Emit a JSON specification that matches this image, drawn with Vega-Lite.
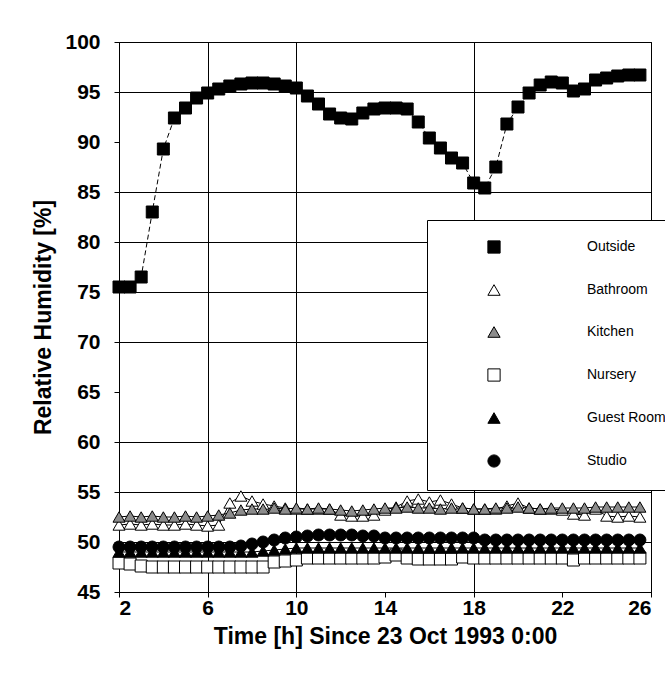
{
  "$schema": "https://vega.github.io/schema/vega-lite/v6.json",
  "width": 532,
  "height": 550,
  "autosize": "none",
  "padding": {"left": 119, "top": 42, "right": 14, "bottom": 95},
  "background": "white",
  "config": {
    "view": {"stroke": "black", "strokeWidth": 1},
    "font": "Liberation Sans",
    "axis": {
      "domainColor": "black", "gridColor": "black", "gridWidth": 1, "tickColor": "black",
      "labelColor": "black", "titleColor": "black", "labelFont": "Liberation Sans",
      "titleFont": "Liberation Sans", "labelFontSize": 21, "labelFontWeight": "bold",
      "titleFontSize": 23, "titleFontWeight": "bold", "tickSize": 5
    },
    "axisX": {"labelPadding": 0, "titlePadding": 7},
    "axisY": {"labelPadding": 14, "titlePadding": 9}
  },
  "data": {"values": [
    {"s":"Outside","t":2,"v":75.5},{"s":"Outside","t":2.5,"v":75.5},{"s":"Outside","t":3,"v":76.5},{"s":"Outside","t":3.5,"v":83.0},{"s":"Outside","t":4,"v":89.3},{"s":"Outside","t":4.5,"v":92.4},{"s":"Outside","t":5,"v":93.4},{"s":"Outside","t":5.5,"v":94.4},{"s":"Outside","t":6,"v":94.9},{"s":"Outside","t":6.5,"v":95.3},{"s":"Outside","t":7,"v":95.6},{"s":"Outside","t":7.5,"v":95.8},{"s":"Outside","t":8,"v":95.9},{"s":"Outside","t":8.5,"v":95.9},{"s":"Outside","t":9,"v":95.8},{"s":"Outside","t":9.5,"v":95.6},{"s":"Outside","t":10,"v":95.4},{"s":"Outside","t":10.5,"v":94.6},{"s":"Outside","t":11,"v":93.8},{"s":"Outside","t":11.5,"v":92.8},{"s":"Outside","t":12,"v":92.4},{"s":"Outside","t":12.5,"v":92.3},{"s":"Outside","t":13,"v":92.9},{"s":"Outside","t":13.5,"v":93.3},{"s":"Outside","t":14,"v":93.4},{"s":"Outside","t":14.5,"v":93.4},{"s":"Outside","t":15,"v":93.3},{"s":"Outside","t":15.5,"v":92.0},{"s":"Outside","t":16,"v":90.4},{"s":"Outside","t":16.5,"v":89.4},{"s":"Outside","t":17,"v":88.4},{"s":"Outside","t":17.5,"v":87.9},{"s":"Outside","t":18,"v":85.9},{"s":"Outside","t":18.5,"v":85.4},{"s":"Outside","t":19,"v":87.5},{"s":"Outside","t":19.5,"v":91.8},{"s":"Outside","t":20,"v":93.5},{"s":"Outside","t":20.5,"v":94.9},{"s":"Outside","t":21,"v":95.7},{"s":"Outside","t":21.5,"v":96.0},{"s":"Outside","t":22,"v":95.9},{"s":"Outside","t":22.5,"v":95.1},{"s":"Outside","t":23,"v":95.3},{"s":"Outside","t":23.5,"v":96.2},{"s":"Outside","t":24,"v":96.4},{"s":"Outside","t":24.5,"v":96.6},{"s":"Outside","t":25,"v":96.7},{"s":"Outside","t":25.5,"v":96.7},
    {"s":"Bathroom","t":2,"v":51.7},{"s":"Bathroom","t":2.5,"v":51.8},{"s":"Bathroom","t":3,"v":51.7},{"s":"Bathroom","t":3.5,"v":51.8},{"s":"Bathroom","t":4,"v":51.7},{"s":"Bathroom","t":4.5,"v":51.7},{"s":"Bathroom","t":5,"v":51.8},{"s":"Bathroom","t":5.5,"v":51.7},{"s":"Bathroom","t":6,"v":51.6},{"s":"Bathroom","t":6.5,"v":51.7},{"s":"Bathroom","t":7,"v":53.9},{"s":"Bathroom","t":7.5,"v":54.6},{"s":"Bathroom","t":8,"v":54.1},{"s":"Bathroom","t":8.5,"v":53.8},{"s":"Bathroom","t":9,"v":53.6},{"s":"Bathroom","t":9.5,"v":53.4},{"s":"Bathroom","t":10,"v":53.3},{"s":"Bathroom","t":10.5,"v":53.3},{"s":"Bathroom","t":11,"v":53.3},{"s":"Bathroom","t":11.5,"v":53.3},{"s":"Bathroom","t":12,"v":52.7},{"s":"Bathroom","t":12.5,"v":52.6},{"s":"Bathroom","t":13,"v":52.6},{"s":"Bathroom","t":13.5,"v":52.7},{"s":"Bathroom","t":14,"v":53.2},{"s":"Bathroom","t":14.5,"v":53.5},{"s":"Bathroom","t":15,"v":54.1},{"s":"Bathroom","t":15.5,"v":54.3},{"s":"Bathroom","t":16,"v":54.0},{"s":"Bathroom","t":16.5,"v":54.2},{"s":"Bathroom","t":17,"v":53.8},{"s":"Bathroom","t":17.5,"v":53.4},{"s":"Bathroom","t":18,"v":53.3},{"s":"Bathroom","t":18.5,"v":53.3},{"s":"Bathroom","t":19,"v":53.3},{"s":"Bathroom","t":19.5,"v":53.6},{"s":"Bathroom","t":20,"v":53.9},{"s":"Bathroom","t":20.5,"v":53.4},{"s":"Bathroom","t":21,"v":53.3},{"s":"Bathroom","t":21.5,"v":53.3},{"s":"Bathroom","t":22,"v":53.2},{"s":"Bathroom","t":22.5,"v":52.8},{"s":"Bathroom","t":23,"v":52.7},{"s":"Bathroom","t":23.5,"v":53.3},{"s":"Bathroom","t":24,"v":52.6},{"s":"Bathroom","t":24.5,"v":52.5},{"s":"Bathroom","t":25,"v":52.6},{"s":"Bathroom","t":25.5,"v":52.5},
    {"s":"Kitchen","t":2,"v":52.5},{"s":"Kitchen","t":2.5,"v":52.6},{"s":"Kitchen","t":3,"v":52.5},{"s":"Kitchen","t":3.5,"v":52.6},{"s":"Kitchen","t":4,"v":52.5},{"s":"Kitchen","t":4.5,"v":52.5},{"s":"Kitchen","t":5,"v":52.6},{"s":"Kitchen","t":5.5,"v":52.5},{"s":"Kitchen","t":6,"v":52.6},{"s":"Kitchen","t":6.5,"v":52.7},{"s":"Kitchen","t":7,"v":52.9},{"s":"Kitchen","t":7.5,"v":53.2},{"s":"Kitchen","t":8,"v":53.3},{"s":"Kitchen","t":8.5,"v":53.3},{"s":"Kitchen","t":9,"v":53.4},{"s":"Kitchen","t":9.5,"v":53.3},{"s":"Kitchen","t":10,"v":53.4},{"s":"Kitchen","t":10.5,"v":53.3},{"s":"Kitchen","t":11,"v":53.4},{"s":"Kitchen","t":11.5,"v":53.3},{"s":"Kitchen","t":12,"v":53.2},{"s":"Kitchen","t":12.5,"v":53.1},{"s":"Kitchen","t":13,"v":53.2},{"s":"Kitchen","t":13.5,"v":53.3},{"s":"Kitchen","t":14,"v":53.4},{"s":"Kitchen","t":14.5,"v":53.4},{"s":"Kitchen","t":15,"v":53.5},{"s":"Kitchen","t":15.5,"v":53.4},{"s":"Kitchen","t":16,"v":53.4},{"s":"Kitchen","t":16.5,"v":53.3},{"s":"Kitchen","t":17,"v":53.4},{"s":"Kitchen","t":17.5,"v":53.4},{"s":"Kitchen","t":18,"v":53.3},{"s":"Kitchen","t":18.5,"v":53.3},{"s":"Kitchen","t":19,"v":53.4},{"s":"Kitchen","t":19.5,"v":53.4},{"s":"Kitchen","t":20,"v":53.5},{"s":"Kitchen","t":20.5,"v":53.4},{"s":"Kitchen","t":21,"v":53.3},{"s":"Kitchen","t":21.5,"v":53.4},{"s":"Kitchen","t":22,"v":53.4},{"s":"Kitchen","t":22.5,"v":53.4},{"s":"Kitchen","t":23,"v":53.4},{"s":"Kitchen","t":23.5,"v":53.5},{"s":"Kitchen","t":24,"v":53.5},{"s":"Kitchen","t":24.5,"v":53.5},{"s":"Kitchen","t":25,"v":53.5},{"s":"Kitchen","t":25.5,"v":53.5},
    {"s":"Nursery","t":2,"v":47.9},{"s":"Nursery","t":2.5,"v":47.8},{"s":"Nursery","t":3,"v":47.6},{"s":"Nursery","t":3.5,"v":47.5},{"s":"Nursery","t":4,"v":47.5},{"s":"Nursery","t":4.5,"v":47.5},{"s":"Nursery","t":5,"v":47.5},{"s":"Nursery","t":5.5,"v":47.5},{"s":"Nursery","t":6,"v":47.5},{"s":"Nursery","t":6.5,"v":47.5},{"s":"Nursery","t":7,"v":47.5},{"s":"Nursery","t":7.5,"v":47.5},{"s":"Nursery","t":8,"v":47.5},{"s":"Nursery","t":8.5,"v":47.5},{"s":"Nursery","t":9,"v":48.0},{"s":"Nursery","t":9.5,"v":48.1},{"s":"Nursery","t":10,"v":48.2},{"s":"Nursery","t":10.5,"v":48.4},{"s":"Nursery","t":11,"v":48.4},{"s":"Nursery","t":11.5,"v":48.4},{"s":"Nursery","t":12,"v":48.4},{"s":"Nursery","t":12.5,"v":48.4},{"s":"Nursery","t":13,"v":48.4},{"s":"Nursery","t":13.5,"v":48.4},{"s":"Nursery","t":14,"v":48.5},{"s":"Nursery","t":14.5,"v":48.7},{"s":"Nursery","t":15,"v":48.4},{"s":"Nursery","t":15.5,"v":48.3},{"s":"Nursery","t":16,"v":48.3},{"s":"Nursery","t":16.5,"v":48.3},{"s":"Nursery","t":17,"v":48.3},{"s":"Nursery","t":17.5,"v":48.5},{"s":"Nursery","t":18,"v":48.4},{"s":"Nursery","t":18.5,"v":48.4},{"s":"Nursery","t":19,"v":48.4},{"s":"Nursery","t":19.5,"v":48.4},{"s":"Nursery","t":20,"v":48.4},{"s":"Nursery","t":20.5,"v":48.4},{"s":"Nursery","t":21,"v":48.4},{"s":"Nursery","t":21.5,"v":48.4},{"s":"Nursery","t":22,"v":48.4},{"s":"Nursery","t":22.5,"v":48.2},{"s":"Nursery","t":23,"v":48.4},{"s":"Nursery","t":23.5,"v":48.4},{"s":"Nursery","t":24,"v":48.4},{"s":"Nursery","t":24.5,"v":48.4},{"s":"Nursery","t":25,"v":48.4},{"s":"Nursery","t":25.5,"v":48.4},
    {"s":"Guest Room","t":2,"v":49.0},{"s":"Guest Room","t":2.5,"v":49.0},{"s":"Guest Room","t":3,"v":49.0},{"s":"Guest Room","t":3.5,"v":49.0},{"s":"Guest Room","t":4,"v":49.0},{"s":"Guest Room","t":4.5,"v":49.0},{"s":"Guest Room","t":5,"v":49.0},{"s":"Guest Room","t":5.5,"v":49.0},{"s":"Guest Room","t":6,"v":49.0},{"s":"Guest Room","t":6.5,"v":49.0},{"s":"Guest Room","t":7,"v":49.0},{"s":"Guest Room","t":7.5,"v":49.0},{"s":"Guest Room","t":8,"v":49.0},{"s":"Guest Room","t":8.5,"v":49.1},{"s":"Guest Room","t":9,"v":49.2},{"s":"Guest Room","t":9.5,"v":49.3},{"s":"Guest Room","t":10,"v":49.4},{"s":"Guest Room","t":10.5,"v":49.4},{"s":"Guest Room","t":11,"v":49.4},{"s":"Guest Room","t":11.5,"v":49.4},{"s":"Guest Room","t":12,"v":49.4},{"s":"Guest Room","t":12.5,"v":49.4},{"s":"Guest Room","t":13,"v":49.4},{"s":"Guest Room","t":13.5,"v":49.4},{"s":"Guest Room","t":14,"v":49.4},{"s":"Guest Room","t":14.5,"v":49.4},{"s":"Guest Room","t":15,"v":49.4},{"s":"Guest Room","t":15.5,"v":49.4},{"s":"Guest Room","t":16,"v":49.4},{"s":"Guest Room","t":16.5,"v":49.4},{"s":"Guest Room","t":17,"v":49.4},{"s":"Guest Room","t":17.5,"v":49.4},{"s":"Guest Room","t":18,"v":49.4},{"s":"Guest Room","t":18.5,"v":49.4},{"s":"Guest Room","t":19,"v":49.4},{"s":"Guest Room","t":19.5,"v":49.4},{"s":"Guest Room","t":20,"v":49.4},{"s":"Guest Room","t":20.5,"v":49.4},{"s":"Guest Room","t":21,"v":49.4},{"s":"Guest Room","t":21.5,"v":49.4},{"s":"Guest Room","t":22,"v":49.4},{"s":"Guest Room","t":22.5,"v":49.4},{"s":"Guest Room","t":23,"v":49.4},{"s":"Guest Room","t":23.5,"v":49.4},{"s":"Guest Room","t":24,"v":49.4},{"s":"Guest Room","t":24.5,"v":49.4},{"s":"Guest Room","t":25,"v":49.4},{"s":"Guest Room","t":25.5,"v":49.4},
    {"s":"Studio","t":2,"v":49.5},{"s":"Studio","t":2.5,"v":49.5},{"s":"Studio","t":3,"v":49.5},{"s":"Studio","t":3.5,"v":49.5},{"s":"Studio","t":4,"v":49.5},{"s":"Studio","t":4.5,"v":49.5},{"s":"Studio","t":5,"v":49.5},{"s":"Studio","t":5.5,"v":49.5},{"s":"Studio","t":6,"v":49.5},{"s":"Studio","t":6.5,"v":49.5},{"s":"Studio","t":7,"v":49.5},{"s":"Studio","t":7.5,"v":49.6},{"s":"Studio","t":8,"v":49.8},{"s":"Studio","t":8.5,"v":50.0},{"s":"Studio","t":9,"v":50.2},{"s":"Studio","t":9.5,"v":50.4},{"s":"Studio","t":10,"v":50.5},{"s":"Studio","t":10.5,"v":50.6},{"s":"Studio","t":11,"v":50.7},{"s":"Studio","t":11.5,"v":50.7},{"s":"Studio","t":12,"v":50.7},{"s":"Studio","t":12.5,"v":50.7},{"s":"Studio","t":13,"v":50.6},{"s":"Studio","t":13.5,"v":50.6},{"s":"Studio","t":14,"v":50.4},{"s":"Studio","t":14.5,"v":50.4},{"s":"Studio","t":15,"v":50.4},{"s":"Studio","t":15.5,"v":50.4},{"s":"Studio","t":16,"v":50.4},{"s":"Studio","t":16.5,"v":50.4},{"s":"Studio","t":17,"v":50.4},{"s":"Studio","t":17.5,"v":50.4},{"s":"Studio","t":18,"v":50.4},{"s":"Studio","t":18.5,"v":50.2},{"s":"Studio","t":19,"v":50.2},{"s":"Studio","t":19.5,"v":50.2},{"s":"Studio","t":20,"v":50.2},{"s":"Studio","t":20.5,"v":50.2},{"s":"Studio","t":21,"v":50.2},{"s":"Studio","t":21.5,"v":50.2},{"s":"Studio","t":22,"v":50.2},{"s":"Studio","t":22.5,"v":50.2},{"s":"Studio","t":23,"v":50.2},{"s":"Studio","t":23.5,"v":50.2},{"s":"Studio","t":24,"v":50.2},{"s":"Studio","t":24.5,"v":50.2},{"s":"Studio","t":25,"v":50.2},{"s":"Studio","t":25.5,"v":50.2}
  ]},
  "encoding": {
    "x": {"field": "t", "type": "quantitative", "scale": {"domain": [2, 26], "nice": false, "zero": false},
      "axis": {"values": [2, 6, 10, 14, 18, 22, 26], "title": "Time [h] Since 23 Oct 1993 0:00",
        "gridOpacity": {"condition": {"test": "datum.value === 14 || datum.value === 22", "value": 0}, "value": 1}}},
    "y": {"field": "v", "type": "quantitative", "scale": {"domain": [45, 100], "nice": false, "zero": false},
      "axis": {"values": [45, 50, 55, 60, 65, 70, 75, 80, 85, 90, 95, 100], "title": "Relative Humidity [%]",
        "gridOpacity": {"condition": {"test": "datum.value === 65 || datum.value === 90", "value": 0}, "value": 1}}}
  },
  "layer": [
    {
      "transform": [{"filter": "datum.s === 'Outside'"}],
      "mark": {"type": "line", "color": "black", "strokeWidth": 1, "strokeDash": [5, 3]}
    },
    {
      "transform": [{"filter": "datum.s !== 'Outside' && datum.s !== 'Nursery'"}],
      "mark": {"type": "line", "color": "black", "strokeWidth": 1},
      "encoding": {"detail": {"field": "s"}}
    },
    {
      "mark": {"type": "point", "filled": true, "stroke": "black", "strokeWidth": 1, "opacity": 1, "size": 144},
      "encoding": {
        "shape": {"field": "s", "type": "nominal",
          "scale": {"domain": ["Outside", "Bathroom", "Kitchen", "Nursery", "Guest Room", "Studio"],
            "range": ["square", "triangle-up", "triangle-up", "square", "triangle-up", "circle"]},
          "legend": {
            "orient": "none", "legendX": 308, "legendY": 178, "title": null,
            "symbolSize": 150, "rowPadding": 26, "padding": 20,
            "symbolOffset": 40, "labelOffset": 86,
            "strokeColor": "black", "fillColor": "white", "labelFont": "Liberation Sans",
            "labelFontSize": 14, "labelColor": "black", "symbolStrokeWidth": 1,
            "encode": {"symbols": {"stroke": {"value": "black"}, "strokeWidth": {"value": 1}}}
          }},
        "fill": {"field": "s", "type": "nominal",
          "scale": {"domain": ["Outside", "Bathroom", "Kitchen", "Nursery", "Guest Room", "Studio"],
            "range": ["black", "white", "#8c8c8c", "white", "black", "black"]}}
      }
    }
  ]
}
